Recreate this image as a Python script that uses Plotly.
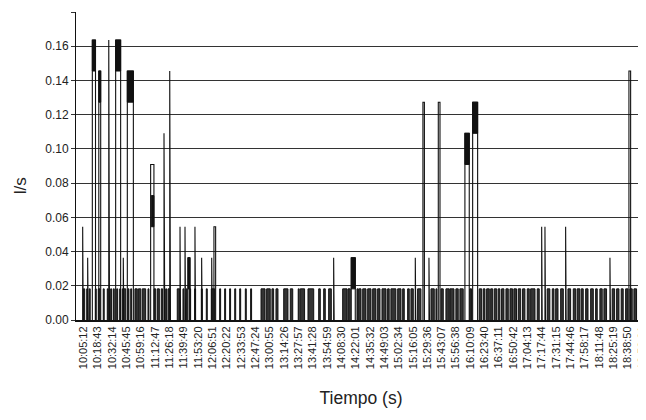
import plotly.graph_objects as go

# ---- data (times in minutes after 10:00:00, flow in l/s) ----
tick_labels = ["10:05:12", "10:18:43", "10:32:14", "10:45:45", "10:59:16", "11:12:47", "11:26:18",
               "11:39:49", "11:53:20", "12:06:51", "12:20:22", "12:33:53", "12:47:24", "13:00:55",
               "13:14:26", "13:27:57", "13:41:28", "13:54:59", "14:08:30", "14:22:01", "14:35:32",
               "14:49:03", "15:02:34", "15:16:05", "15:29:36", "15:43:07", "15:56:38", "16:10:09",
               "16:23:40", "16:37:11", "16:50:42", "17:04:13", "17:17:44", "17:31:15", "17:44:46",
               "17:58:17", "18:11:48", "18:25:19", "18:38:50", "18:52:21"]

# small base pulses (0.0182 l/s): start time and duration
base_t = [5.2, 8.4, 10.8, 16.5, 19.3, 24.0, 27.8, 31.0, 33.5, 36.7, 39.5, 42.0, 47.3, 49.9,
          53.9, 57.1, 60.8, 66.2, 71.9, 75.0, 78.7, 82.9,
          85.1, 93.8, 99.2, 102.3, 105.5, 110.2, 116.5, 121.2, 125.9, 133.8, 138.5, 143.2,
          148.0, 152.7, 158.0, 163.0, 172.8,
          178.1, 183.1, 186.9, 194.2, 200.4, 207.9, 209.8, 217.1, 227.2, 231.9, 236.6, 249.8,
          254.8, 263.3,
          264.9, 268.7, 273.4, 278.1, 282.8, 286.9, 292.2, 295.3, 301.7, 306.4, 311.1, 314.2,
          320.5, 333.1, 337.8, 342.5, 347.2,
          351.0, 356.6, 360.4, 369.8, 378.6, 382.4, 385.6, 389.4, 392.8, 396.5, 399.7, 403.8,
          407.6, 411.3, 415.4, 419.5, 423.9, 427.1, 433.3,
          442.7, 447.5, 450.7, 455.4, 462.3, 467.3, 471.0, 474.8, 479.0, 483.7, 488.4, 492.4,
          496.2, 504.0, 508.2, 512.5, 516.7, 520.7, 524.5, 529.2, 533.3]
base_d = [1.3, 0.9, 0.9, 0.9, 1.6, 0.9, 0.9, 0.9, 0.9, 0.9, 0.9, 3.2, 0.9, 0.9,
          2.2, 2.3, 3.2, 0.9, 1.6, 1.9, 1.3, 0.9,
          1.6, 2.3, 0.9, 0.9, 0.9, 0.9, 0.9, 0.9, 3.2, 0.9, 0.9, 0.9,
          0.9, 0.9, 0.9, 0.9, 3.8,
          3.4, 1.6, 1.9, 4.0, 2.3, 0.9, 4.1, 5.4, 1.5, 1.5, 2.5, 4.1,
          2.2, 0.9,
          2.2, 3.1, 3.1, 3.1, 2.2, 3.8, 1.5, 4.7, 3.1, 1.5, 1.5, 2.2,
          3.1, 3.1, 0.9, 2.2, 3.1,
          3.8, 2.2, 3.1, 1.6, 2.3, 1.6, 2.5, 1.9, 2.3, 1.6, 2.2, 2.2,
          2.5, 2.5, 2.3, 2.2, 1.9, 4.1, 1.9,
          2.5, 1.6, 2.2, 2.5, 2.5, 2.3, 2.5, 1.9, 2.2, 2.5, 1.5, 2.2,
          2.5, 2.3, 2.2, 1.9, 2.2, 2.2, 2.5, 2.2, 1.3]
base_h = 0.0182

# taller flow peaks: start, duration, value
peak_t = [4.6, 9.3, 13.7, 19.8, 29.2, 35.7, 42.9, 46.7, 68.7, 81.3, 86.7, 96.4, 101.1,
          103.9, 110.5, 116.8, 126.3, 128.4, 241.3, 257.9, 318.3, 325.5, 331.2, 340.0,
          365.1, 372.4, 437.5, 440.6, 460.1, 501.9, 519.8]
peak_d = [0.5, 0.5, 3.0, 1.8, 0.7, 4.7, 0.5, 5.7, 3.1, 0.7, 0.7, 0.5, 0.5,
          1.9, 0.5, 0.5, 0.5, 1.6, 0.5, 3.8, 0.5, 1.4, 0.5, 1.6,
          4.1, 4.7, 0.5, 0.5, 0.5, 0.5, 1.6]
peak_v = [0.0545, 0.0364, 0.1636, 0.1455, 0.1636, 0.1636, 0.0364, 0.1455, 0.0909, 0.1091,
          0.1455, 0.0545, 0.0545, 0.0364, 0.0545, 0.0364, 0.0364, 0.0545, 0.0364, 0.0364,
          0.0364, 0.1273, 0.0364, 0.1273, 0.1091, 0.1273, 0.0545, 0.0545, 0.0545, 0.0364,
          0.1455]

# dense oscillation bands: start, duration, low, high
band_t = [13.7, 19.8, 35.7, 46.7, 69.3, 103.9, 257.9, 365.1, 372.4]
band_d = [3.0, 1.8, 4.7, 5.7, 2.5, 1.9, 3.8, 4.1, 4.7]
band_lo = [0.1455, 0.1273, 0.1455, 0.1273, 0.0545, 0.0182, 0.0182, 0.0909, 0.1091]
band_hi = [0.1636, 0.1455, 0.1636, 0.1455, 0.0727, 0.0364, 0.0364, 0.1091, 0.1273]


def to_min(s):
    h, m, sec = (int(v) for v in s.split(":"))
    return (h - 10) * 60 + m + sec / 60.0


tick_vals = [to_min(s) for s in tick_labels]


def pulses(ts, ds, hs):
    xs, ys = [], []
    for t, d, h in zip(ts, ds, hs):
        xs += [t, t, t + d, t + d, None]
        ys += [0, h, h, 0, None]
    return xs, ys


fig = go.Figure()

bx, by = pulses(base_t, base_d, [base_h] * len(base_t))
fig.add_trace(go.Scatter(x=bx, y=by, mode="lines", fill="toself", fillcolor="#333333",
                         line=dict(color="#111111", width=1), hoverinfo="skip", showlegend=False))

px_, py_ = pulses(peak_t, peak_d, peak_v)
fig.add_trace(go.Scatter(x=px_, y=py_, mode="lines",
                         line=dict(color="#111111", width=1.1), hoverinfo="skip", showlegend=False))

qx, qy = [], []
for t, d, lo, hi in zip(band_t, band_d, band_lo, band_hi):
    qx += [t, t, t + d, t + d, t, None]
    qy += [lo, hi, hi, lo, lo, None]
fig.add_trace(go.Scatter(x=qx, y=qy, mode="lines", fill="toself", fillcolor="#111111",
                         line=dict(color="#111111", width=1), hoverinfo="skip", showlegend=False))

font_family = "Arial, Liberation Sans, Helvetica, sans-serif"
fig.update_layout(
    width=638, height=404,
    margin=dict(l=68, r=0, t=4, b=92),
    paper_bgcolor="white", plot_bgcolor="white",
    font=dict(family=font_family, size=12, color="#222222"),
    xaxis=dict(
        range=[-1.7, 535.9], tickmode="array", tickvals=tick_vals, ticktext=tick_labels,
        tickangle=-90, showgrid=False, zeroline=False, ticks="", automargin=False,
        ticklabeloverflow="allow",
        showline=True, linecolor="#111111", linewidth=2,
        tickfont=dict(size=11, color="#222222"),
        title=dict(text="Tiempo (s)", font=dict(size=17.5, color="#222222"), standoff=24),
    ),
    yaxis=dict(
        range=[0, 0.18], dtick=0.02, tick0=0, tickformat=".2f", automargin=False,
        showgrid=True, gridcolor="#333333", gridwidth=1,
        zeroline=True, zerolinecolor="#111111", zerolinewidth=2,
        showline=True, linecolor="#111111", linewidth=1,
        ticks="outside", ticklen=4, tickcolor="#333333",
        tickfont=dict(size=12, color="#222222"),
    ),
    annotations=[dict(text="l/s", textangle=-90, xref="paper", yref="paper",
                      x=-0.098, y=0.435, xanchor="center", yanchor="middle",
                      showarrow=False, font=dict(size=17, color="#222222"))],
)

fig.write_html("out.html")
